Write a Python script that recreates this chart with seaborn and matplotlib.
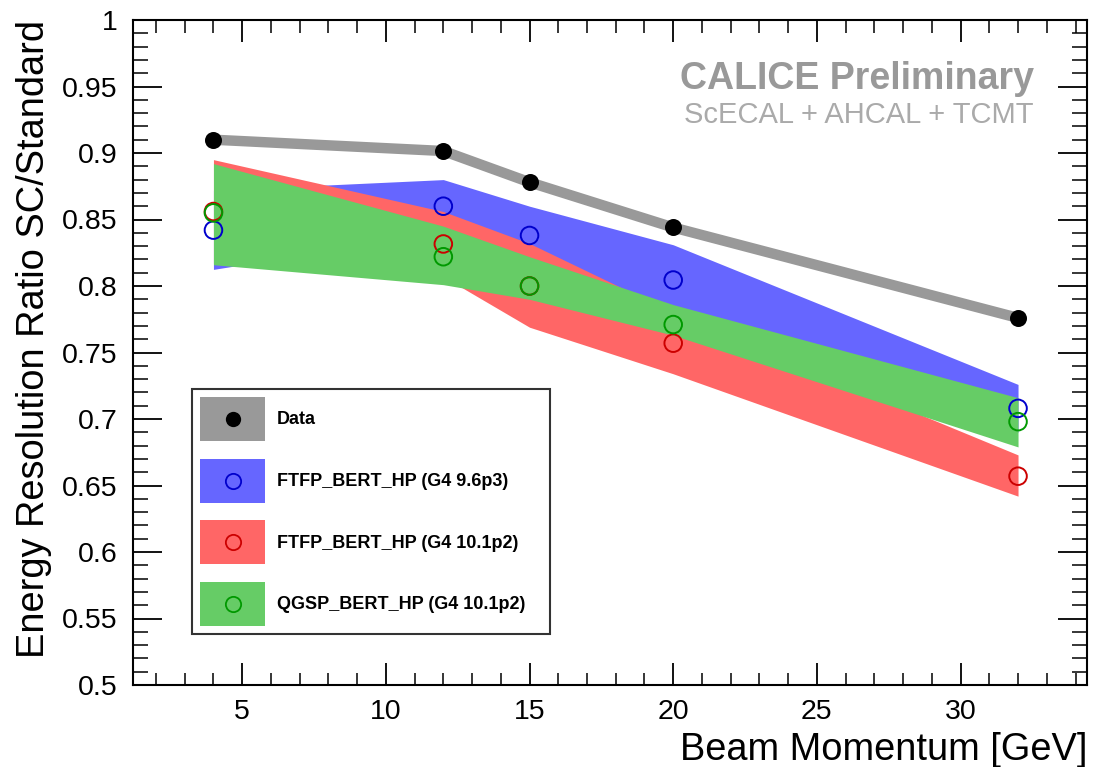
import numpy as np
import pandas as pd
import matplotlib
matplotlib.use("Agg")
import matplotlib.pyplot as plt
import seaborn as sns
from matplotlib.patches import Rectangle
from matplotlib.lines import Line2D
from matplotlib.legend_handler import HandlerBase
from matplotlib.ticker import MultipleLocator, FuncFormatter

# ---------------- data ----------------
momentum = [4, 12, 15, 20, 32]

data_ratio = [0.910, 0.9015, 0.878, 0.844, 0.776]

ftfp96_ratio = [0.842, 0.860, 0.838, 0.8045, 0.708]
ftfp96_upper = [0.872, 0.880, 0.860, 0.831, 0.726]
ftfp96_lower = [0.8125, 0.840, 0.816, 0.778, 0.690]

ftfp101_ratio = [0.856, 0.8316, 0.800, 0.757, 0.657]
ftfp101_upper = [0.895, 0.856, 0.832, 0.780, 0.673]
ftfp101_lower = [0.817, 0.807, 0.769, 0.734, 0.642]

qgsp101_ratio = [0.855, 0.822, 0.800, 0.771, 0.698]
qgsp101_upper = [0.892, 0.845, 0.822, 0.786, 0.716]
qgsp101_lower = [0.816, 0.801, 0.790, 0.763, 0.679]

labels = ["Data", "FTFP_BERT_HP (G4 9.6p3)", "FTFP_BERT_HP (G4 10.1p2)",
          "QGSP_BERT_HP (G4 10.1p2)"]

# ---------------- style ----------------
sns.set_theme(style="ticks")
plt.rcParams["font.family"] = ["Liberation Sans", "DejaVu Sans"]
for k in ["text.color", "axes.labelcolor", "xtick.color", "ytick.color"]:
    plt.rcParams[k] = "black"

fig = plt.figure(figsize=(11.03, 7.67), dpi=100)
ax = fig.add_axes([133 / 1103, 1 - 685 / 767, (1087 - 133) / 1103, (685 - 20) / 767])

band_fill = ["#6666ff", "#ff6666", "#66cc66"]
marker_col = ["#0000cc", "#cc0000", "#009900"]

models = [
    (ftfp96_ratio, ftfp96_lower, ftfp96_upper),
    (ftfp101_ratio, ftfp101_lower, ftfp101_upper),
    (qgsp101_ratio, qgsp101_lower, qgsp101_upper),
]

for (ratio, lo, hi), fc in zip(models, band_fill):
    ax.fill_between(momentum, lo, hi, color=fc, linewidth=0, zorder=1)

# data line
df_data = pd.DataFrame({"p": momentum, "r": data_ratio})
sns.lineplot(data=df_data, x="p", y="r", ax=ax, color="#999999", linewidth=7.5,
             zorder=3, legend=False)
sns.scatterplot(data=df_data, x="p", y="r", ax=ax, color="black", s=150,
                edgecolor="black", linewidth=0, zorder=5, legend=False)

# model points (open circles)
for (ratio, lo, hi), mc in zip(models, marker_col):
    dfm = pd.DataFrame({"p": momentum, "r": ratio})
    sns.scatterplot(data=dfm, x="p", y="r", ax=ax, s=160, facecolor="none",
                    edgecolor=mc, linewidth=1.4, zorder=4, legend=False)

# ---------------- axes ----------------
ax.set_xlim(1.2, 34.4)
ax.set_ylim(0.5, 1.0)
ax.xaxis.set_major_locator(MultipleLocator(5))
ax.xaxis.set_minor_locator(MultipleLocator(1))
ax.yaxis.set_major_locator(MultipleLocator(0.05))
ax.yaxis.set_minor_locator(MultipleLocator(0.01))
ax.yaxis.set_major_formatter(FuncFormatter(lambda v, p: "%g" % round(v, 3)))
ax.xaxis.set_major_formatter(FuncFormatter(lambda v, p: "%g" % v))

for s in ax.spines.values():
    s.set_linewidth(1.5)
    s.set_color("black")

ax.tick_params(axis="y", which="major", direction="in", length=21, width=1.3,
               left=True, right=True, labelsize=20.5, pad=11, colors="black")
ax.tick_params(axis="y", which="minor", direction="in", length=11, width=1.1,
               left=True, right=True, colors="black")
ax.tick_params(axis="x", which="major", direction="in", length=16, width=1.3,
               bottom=True, top=True, labelsize=20.5, pad=10, colors="black")
ax.tick_params(axis="x", which="minor", direction="in", length=9, width=1.1,
               bottom=True, top=True, colors="black")

ax.set_xlabel("Beam Momentum [GeV]", fontsize=27.4, loc="right", labelpad=5)
ax.set_ylabel("Energy Resolution Ratio SC/Standard", fontsize=27.4, loc="top",
              labelpad=7)

# header text
ax.text(0.944, 0.912, "CALICE Preliminary", transform=ax.transAxes,
        ha="right", va="center", fontsize=27, fontweight="bold", color="#999999")
ax.text(0.944, 0.857, "ScECAL + AHCAL + TCMT", transform=ax.transAxes,
        ha="right", va="center", fontsize=21, color="#aaaaaa")


# ---------------- legend ----------------
class BoxMarker:
    def __init__(self, box, mfc, mec, mew):
        self.box, self.mfc, self.mec, self.mew = box, mfc, mec, mew


class BoxMarkerHandler(HandlerBase):
    def create_artists(self, legend, orig, xdescent, ydescent, width, height,
                       fontsize, trans):
        rect = Rectangle((-xdescent, -ydescent), width, height,
                         facecolor=orig.box, edgecolor="none", transform=trans)
        mk = Line2D([width / 2 - xdescent], [height / 2 - ydescent], marker="o",
                    linestyle="none", markersize=11, markerfacecolor=orig.mfc,
                    markeredgecolor=orig.mec, markeredgewidth=orig.mew,
                    transform=trans)
        return [rect, mk]


handles = [BoxMarker("#999999", "black", "black", 0)]
for fc, mc in zip(band_fill, marker_col):
    handles.append(BoxMarker(fc, "none", mc, 1.3))

leg = ax.legend(handles, labels, loc="upper left",
                handler_map={BoxMarker: BoxMarkerHandler()},
                bbox_to_anchor=(0.0618, 0.0737, 0.3753, 0.3714), mode="expand",
                prop={"weight": "bold", "size": 13}, frameon=True, fancybox=False,
                handlelength=3.6, handleheight=3.37, labelspacing=0.98,
                handletextpad=0.66, borderpad=0.45, borderaxespad=0)
leg.get_frame().set_edgecolor("black")
leg.get_frame().set_linewidth(1.5)
leg.set_zorder(10)

fig.savefig("out.png", dpi=100, facecolor="white")
